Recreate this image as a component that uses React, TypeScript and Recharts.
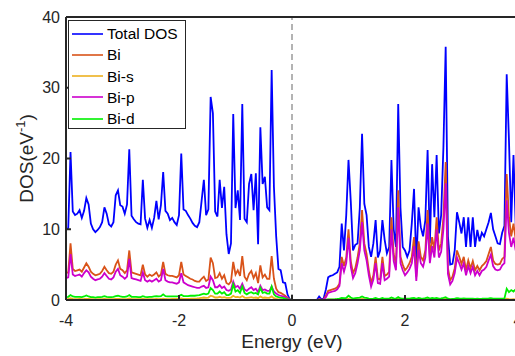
import { LineChart, Line, XAxis, YAxis, ReferenceLine, Legend } from "recharts";

const FONT = '"Liberation Sans", Arial, Helvetica, sans-serif';
const AXIS = "#262626";

const X_TICKS = [-4, -2, 0, 2, 4];
const Y_TICKS = [0, 10, 20, 30, 40];

// energy grid (eV)
const ENERGY = [
  -4, -3.96, -3.92, -3.88, -3.84, -3.8, -3.76, -3.72, -3.68, -3.64,
  -3.6, -3.56, -3.52, -3.48, -3.44, -3.4, -3.36, -3.32, -3.28, -3.24,
  -3.2, -3.16, -3.12, -3.08, -3.04, -3, -2.96, -2.92, -2.88, -2.84,
  -2.8, -2.76, -2.72, -2.68, -2.64, -2.6, -2.56, -2.52, -2.48, -2.44,
  -2.4, -2.36, -2.32, -2.28, -2.24, -2.2, -2.16, -2.12, -2.08, -2.04,
  -2, -1.96, -1.92, -1.88, -1.84, -1.8, -1.76, -1.72, -1.68, -1.64,
  -1.6, -1.56, -1.52, -1.48, -1.44, -1.4, -1.36, -1.32, -1.28, -1.24,
  -1.2, -1.16, -1.12, -1.08, -1.04, -1, -0.96, -0.92, -0.88, -0.84,
  -0.8, -0.76, -0.72, -0.68, -0.64, -0.6, -0.56, -0.52, -0.48, -0.44,
  -0.4, -0.36, -0.32, -0.28, -0.24, -0.2, -0.16, -0.12, -0.08, -0.04,
  0, 0.04, 0.08, 0.12, 0.16, 0.2, 0.24, 0.28, 0.32, 0.36,
  0.4, 0.44, 0.48, 0.52, 0.56, 0.6, 0.64, 0.68, 0.72, 0.76,
  0.8, 0.84, 0.88, 0.92, 0.96, 1, 1.04, 1.08, 1.12, 1.16,
  1.2, 1.24, 1.28, 1.32, 1.36, 1.4, 1.44, 1.48, 1.52, 1.56,
  1.6, 1.64, 1.68, 1.72, 1.76, 1.8, 1.84, 1.88, 1.92, 1.96,
  2, 2.04, 2.08, 2.12, 2.16, 2.2, 2.24, 2.28, 2.32, 2.36,
  2.4, 2.44, 2.48, 2.52, 2.56, 2.6, 2.64, 2.68, 2.72, 2.76,
  2.8, 2.84, 2.88, 2.92, 2.96, 3, 3.04, 3.08, 3.12, 3.16,
  3.2, 3.24, 3.28, 3.32, 3.36, 3.4, 3.44, 3.48, 3.52, 3.56,
  3.6, 3.64, 3.68, 3.72, 3.76, 3.8, 3.84, 3.88, 3.92, 3.96,
  4,
];

const TOTAL = [
  9.9, 10.2, 20.9, 12.5, 12.0, 12.2, 12.7, 11.6, 12.6, 14.4,
  13.5, 10.8, 10.0, 9.6, 9.9, 10.3, 11.0, 13.1, 12.2, 10.7,
  10.4, 11.0, 14.8, 15.5, 13.4, 13.2, 12.2, 13.5, 21.3, 11.9,
  11.4, 11.0, 10.8, 10.7, 17.0, 11.5, 10.2, 11.3, 10.2, 11.6,
  14.0, 11.4, 13.4, 18.1, 12.6, 12.2, 11.3, 11.6, 11.0, 10.6,
  12.0, 20.7, 12.8, 12.6, 12.0, 11.5, 10.9, 10.5, 10.3, 11.0,
  14.0, 17.0, 12.0, 12.8, 28.7, 26.4, 12.5, 11.8, 17.0, 13.0,
  16.0, 9.3, 6.5, 8.0, 26.3, 13.0, 15.5, 11.3, 27.7, 11.5,
  11.0, 16.4, 17.8, 12.7, 17.9, 7.9, 24.4, 16.4, 17.4, 13.1,
  12.7, 32.5, 16.0, 9.0, 4.4, 4.2, 2.5, 2.4, 0.8, 0.1,
  0, 0, 0, 0, 0, 0, 0, 0, 0, 0,
  0, 0, 0.5, 0.1, 0.2, 1.5, 3.2, 3.4, 3.5, 3.7,
  3.9, 4.7, 10.8, 7.0, 12.0, 19.8, 14.0, 7.0, 7.8, 8.0,
  13.0, 23.5, 13.6, 12.0, 7.5, 6.1, 8.0, 11.3, 6.0, 7.0,
  11.3, 8.5, 6.6, 7.5, 19.8, 10.0, 7.5, 27.7, 13.0, 7.5,
  7.0, 6.1, 7.0, 10.8, 15.7, 5.1, 13.1, 10.3, 9.0, 11.3,
  21.2, 8.0, 19.2, 11.7, 20.5, 9.4, 12.0, 21.6, 35.8, 9.0,
  5.0, 5.1, 7.0, 12.4, 11.0, 9.4, 11.7, 7.5, 11.7, 7.5,
  11.7, 7.5, 9.9, 8.3, 9.5, 9.0, 10.0, 11.0, 12.3, 10.0,
  9.0, 8.0, 7.9, 9.5, 10.5, 31.9, 22.6, 11.0, 20.5, 10.5,
  20.0,
];

const BI = [
  3.8, 3.9, 8.0, 4.4, 4.1, 4.2, 4.3, 4.0, 4.6, 5.2,
  4.7, 4.0, 3.7, 3.5, 3.6, 3.7, 4.1, 4.7, 4.2, 3.8,
  3.7, 4.0, 5.0, 5.6, 4.4, 4.2, 3.8, 4.2, 7.0, 3.9,
  3.8, 3.7, 3.6, 3.5, 5.0, 3.6, 3.3, 3.6, 3.4, 3.6,
  3.9, 3.3, 3.6, 5.4, 3.7, 3.5, 3.4, 3.4, 3.3, 3.2,
  3.5, 5.4, 3.6, 3.4, 3.2, 3.0, 2.9, 2.7, 2.6, 2.6,
  3.0, 3.3, 2.7, 2.9, 6.0, 5.2, 3.1, 3.2, 3.8, 3.0,
  3.5, 2.4, 2.2, 2.6, 5.4, 3.6, 4.2, 3.4, 6.2, 3.3,
  2.8, 3.7, 4.1, 3.1, 3.8, 2.4, 4.9, 3.2, 3.6, 3.0,
  3.0, 6.2, 3.0, 1.6, 1.1, 1.0, 0.8, 0.6, 0.3, 0.1,
  0, 0, 0, 0, 0, 0, 0, 0, 0, 0,
  0, 0, 0.1, 0.05, 0.1, 0.6, 1.3, 1.4, 1.5, 1.6,
  1.8, 2.3, 6.1, 4.8, 6.0, 10.0, 5.5, 3.8, 4.5, 6.0,
  8.0, 12.7, 8.0, 6.5, 4.2, 2.4, 3.5, 6.1, 3.0, 2.9,
  6.1, 3.4, 3.6, 4.0, 11.7, 6.5, 5.0, 15.5, 6.1, 5.0,
  4.2, 4.6, 5.2, 6.1, 8.9, 3.3, 8.3, 6.1, 5.6, 7.0,
  12.7, 6.1, 8.9, 7.0, 11.7, 7.0, 8.0, 11.7, 19.5, 4.5,
  2.8, 3.3, 4.5, 7.0, 6.1, 5.1, 6.1, 4.2, 5.6, 4.5,
  5.5, 4.2, 4.8, 4.2, 4.8, 5.1, 5.5, 6.5, 7.5, 5.6,
  5.1, 5.0, 5.1, 5.8, 6.1, 17.8, 11.7, 9.0, 10.8, 8.5,
  11.0,
];

const BI_S = [
  0.12, 0.13, 0.25, 0.15, 0.13, 0.13, 0.14, 0.12, 0.14, 0.17,
  0.15, 0.12, 0.11, 0.1, 0.11, 0.11, 0.12, 0.15, 0.13, 0.12,
  0.11, 0.12, 0.15, 0.17, 0.14, 0.13, 0.12, 0.13, 0.22, 0.12,
  0.12, 0.12, 0.11, 0.11, 0.16, 0.12, 0.11, 0.12, 0.12, 0.13,
  0.14, 0.13, 0.14, 0.2, 0.14, 0.13, 0.13, 0.14, 0.14, 0.14,
  0.15, 0.22, 0.16, 0.16, 0.17, 0.18, 0.2, 0.2, 0.22, 0.25,
  0.3, 0.35, 0.3, 0.35, 0.6, 0.5, 0.35, 0.35, 0.45, 0.35,
  0.4, 0.3, 0.3, 0.35, 0.6, 0.4, 0.45, 0.35, 0.55, 0.35,
  0.3, 0.35, 0.4, 0.3, 0.35, 0.25, 0.5, 0.3, 0.35, 0.3,
  0.3, 0.5, 0.25, 0.15, 0.1, 0.1, 0.08, 0.06, 0.03, 0.01,
  0, 0, 0, 0, 0, 0, 0, 0, 0, 0,
  0, 0, 0.01, 0, 0.01, 0.02, 0.04, 0.04, 0.05, 0.05,
  0.05, 0.06, 0.1, 0.08, 0.1, 0.15, 0.09, 0.06, 0.07, 0.08,
  0.1, 0.15, 0.1, 0.09, 0.06, 0.05, 0.06, 0.08, 0.05, 0.05,
  0.08, 0.06, 0.06, 0.06, 0.12, 0.07, 0.06, 0.15, 0.07, 0.06,
  0.06, 0.06, 0.06, 0.07, 0.09, 0.05, 0.08, 0.07, 0.06, 0.07,
  0.1, 0.06, 0.08, 0.07, 0.09, 0.06, 0.07, 0.09, 0.14, 0.05,
  0.04, 0.04, 0.05, 0.07, 0.06, 0.05, 0.06, 0.05, 0.06, 0.05,
  0.06, 0.05, 0.05, 0.05, 0.05, 0.06, 0.06, 0.07, 0.08, 0.06,
  0.06, 0.05, 0.05, 0.06, 0.06, 0.2, 0.12, 0.1, 0.11, 0.09,
  0.1,
];

const BI_P = [
  3.1, 3.2, 6.5, 3.6, 3.4, 3.5, 3.6, 3.3, 3.8, 4.2,
  3.9, 3.3, 3.0, 2.8, 2.9, 3.0, 3.3, 3.8, 3.4, 3.0,
  2.9, 3.2, 4.0, 4.4, 3.5, 3.3, 3.0, 3.3, 5.8, 3.1,
  3.0, 2.9, 2.8, 2.7, 3.9, 2.8, 2.6, 2.8, 2.6, 2.8,
  3.0, 2.6, 2.8, 4.4, 2.8, 2.6, 2.5, 2.5, 2.4, 2.3,
  2.5, 3.8, 2.5, 2.3, 2.1, 2.0, 1.9, 1.8, 1.7, 1.7,
  1.9, 2.0, 1.7, 1.8, 3.3, 2.8, 1.8, 1.8, 2.1, 1.7,
  1.9, 1.4, 1.3, 1.5, 2.6, 1.8, 2.0, 1.6, 2.3, 1.5,
  1.3, 1.6, 1.8, 1.4, 1.6, 1.1, 2.0, 1.4, 1.5, 1.3,
  1.3, 1.9, 1.2, 0.9, 0.7, 0.6, 0.5, 0.4, 0.2, 0.05,
  0, 0, 0, 0, 0, 0, 0, 0, 0, 0,
  0, 0, 0.05, 0.03, 0.05, 0.4, 1.0, 1.1, 1.2, 1.3,
  1.5, 2.0, 5.2, 4.0, 5.2, 8.8, 4.7, 3.1, 3.8, 5.2,
  7.0, 11.0, 7.0, 5.6, 3.5, 1.9, 2.9, 5.2, 2.4, 2.3,
  5.2, 2.8, 3.0, 3.3, 10.0, 5.5, 4.2, 13.1, 5.2, 4.2,
  3.5, 3.9, 4.4, 5.2, 7.6, 2.7, 7.1, 5.2, 4.7, 6.0,
  10.8, 5.2, 7.6, 6.0, 10.0, 6.0, 6.8, 10.0, 16.5, 3.7,
  2.2, 2.7, 3.8, 6.0, 5.2, 4.3, 5.2, 3.5, 4.8, 3.8,
  4.7, 3.5, 4.1, 3.5, 4.1, 4.3, 4.7, 5.6, 6.4, 4.8,
  4.3, 4.2, 4.3, 4.9, 5.2, 14.1, 9.5, 7.5, 8.8, 7.0,
  9.0,
];

const BI_D = [
  0.4, 0.45, 0.7, 0.5, 0.45, 0.45, 0.45, 0.4, 0.5, 0.65,
  0.5, 0.4, 0.4, 0.35, 0.4, 0.4, 0.45, 0.55, 0.45, 0.4,
  0.4, 0.45, 0.55, 0.6, 0.5, 0.45, 0.45, 0.5, 0.7, 0.45,
  0.45, 0.45, 0.4, 0.4, 0.55, 0.45, 0.4, 0.45, 0.45, 0.5,
  0.55, 0.5, 0.55, 0.8, 0.55, 0.5, 0.5, 0.5, 0.5, 0.5,
  0.55, 0.75, 0.55, 0.55, 0.55, 0.6, 0.6, 0.6, 0.65, 0.7,
  0.8, 0.9, 0.8, 0.9, 1.7, 1.4, 0.9, 0.9, 1.2, 0.9,
  1.1, 0.7, 0.7, 0.9, 2.2, 1.2, 1.4, 1.0, 1.9, 1.0,
  0.8, 1.0, 1.1, 0.9, 1.0, 0.8, 1.7, 1.0, 1.1, 0.9,
  0.9, 1.9, 0.8, 0.5, 0.4, 0.35, 0.3, 0.2, 0.1, 0.05,
  0, 0, 0, 0, 0, 0, 0, 0, 0, 0,
  0, 0, 0.02, 0.01, 0.02, 0.05, 0.1, 0.1, 0.1, 0.12,
  0.15, 0.2, 0.3, 0.25, 0.3, 0.6, 0.35, 0.2, 0.25, 0.3,
  0.35, 0.5, 0.35, 0.3, 0.2, 0.15, 0.2, 0.3, 0.15, 0.15,
  0.3, 0.18, 0.18, 0.2, 0.35, 0.22, 0.2, 0.4, 0.22, 0.2,
  0.18, 0.2, 0.2, 0.25, 0.3, 0.15, 0.28, 0.22, 0.2, 0.25,
  0.35, 0.2, 0.3, 0.22, 0.3, 0.2, 0.22, 0.3, 0.4, 0.18,
  0.12, 0.15, 0.18, 0.25, 0.22, 0.2, 0.22, 0.18, 0.2, 0.18,
  0.2, 0.17, 0.18, 0.17, 0.18, 0.2, 0.2, 0.22, 0.25, 0.2,
  0.2, 0.18, 0.18, 0.2, 0.22, 1.6, 1.1, 1.4, 1.2, 1.5,
  1.3,
];

const SERIES = [
  { key: "total", name: "Total DOS", color: "#0000FF", values: TOTAL },
  { key: "bi", name: "Bi", color: "#D95319", values: BI },
  { key: "bis", name: "Bi-s", color: "#EDB120", values: BI_S },
  { key: "bip", name: "Bi-p", color: "#CC00CC", values: BI_P },
  { key: "bid", name: "Bi-d", color: "#00F000", values: BI_D },
];

const rows = ENERGY.map((e, i) => {
  const row: Record<string, number> = { energy: e };
  SERIES.forEach((s) => (row[s.key] = s.values[i]));
  return row;
});

function DosLegend({ payload }: { payload?: { value: string; color: string }[] }) {
  const order = SERIES.map((s) => s.name);
  const items = [...(payload ?? [])].sort((a, b) => order.indexOf(a.value) - order.indexOf(b.value));
  return (
    <div
      style={{
        width: 118,
        height: 109,
        boxSizing: "border-box",
        background: "#fff",
        border: `1px solid ${AXIS}`,
        padding: "2px 0 0 3px",
        fontFamily: FONT,
        fontSize: 15.5,
        color: "#000",
      }}
    >
      {items.map((it) => (
        <div key={it.value} style={{ display: "flex", alignItems: "center", height: 21.25 }}>
          <svg width={31} height={4} style={{ display: "block" }}>
            <line x1={0} y1={2} x2={31} y2={2} stroke={it.color} strokeWidth={1.6} />
          </svg>
          <span style={{ marginLeft: 4, lineHeight: "15px" }}>{it.value}</span>
        </div>
      ))}
    </div>
  );
}

function XLabel({ viewBox }: { viewBox?: { x: number; y: number; width: number } }) {
  const vb = viewBox ?? { x: 66, y: 300, width: 452 };
  return (
    <text x={vb.x + vb.width / 2} y={vb.y + 48} textAnchor="middle" fontFamily={FONT} fontSize={19} fill={AXIS}>
      Energy (eV)
    </text>
  );
}

function YLabel({ viewBox }: { viewBox?: { x: number; y: number; width: number; height: number } }) {
  const vb = viewBox ?? { x: 0, y: 17, width: 66, height: 283 };
  const cx = vb.x + vb.width / 2;
  const cy = vb.y + vb.height / 2;
  return (
    <text
      x={cx}
      y={cy}
      transform={`rotate(-90, ${cx}, ${cy})`}
      textAnchor="middle"
      fontFamily={FONT}
      fontSize={19}
      fill={AXIS}
    >
      DOS(eV
      <tspan fontSize={13} dy={-8}>-1</tspan>
      <tspan dy={8}>)</tspan>
    </text>
  );
}

const axisLine = { stroke: AXIS, strokeWidth: 2 };
const tickText = { fill: AXIS, fontSize: 16, fontFamily: FONT };

export default function App() {
  return (
    <div style={{ position: "fixed", left: 0, top: 0, width: 515, height: 356, overflow: "hidden", background: "#fff" }}>
      <LineChart width={530} height={356} data={rows} margin={{ top: 16, right: 11, left: 0, bottom: 0 }}>
        <XAxis
          dataKey="energy"
          type="number"
          domain={[-4, 4]}
          ticks={X_TICKS}
          interval={0}
          allowDataOverflow
          height={56}
          tickSize={-5}
          tickMargin={20}
          tick={tickText}
          axisLine={axisLine}
          tickLine={axisLine}
          label={<XLabel />}
        />
        <XAxis
          xAxisId="top"
          orientation="top"
          type="number"
          domain={[-4, 4]}
          ticks={X_TICKS}
          interval={0}
          allowDataOverflow
          height={1}
          tickSize={-5}
          tick={false}
          axisLine={axisLine}
          tickLine={axisLine}
        />
        <YAxis
          type="number"
          domain={[0, 40]}
          ticks={Y_TICKS}
          interval={0}
          allowDataOverflow
          width={66}
          tickSize={-5}
          tickMargin={11}
          tick={tickText}
          axisLine={axisLine}
          tickLine={axisLine}
          label={<YLabel />}
        />
        <YAxis
          yAxisId="right"
          orientation="right"
          type="number"
          domain={[0, 40]}
          ticks={Y_TICKS}
          interval={0}
          allowDataOverflow
          width={1}
          tickSize={-5}
          tick={false}
          axisLine={axisLine}
          tickLine={axisLine}
        />
        <ReferenceLine x={0} stroke="#9a9a9a" strokeWidth={1.5} strokeDasharray="6 4" />
        {SERIES.map((s) => (
          <Line
            key={s.key}
            dataKey={s.key}
            name={s.name}
            type="linear"
            stroke={s.color}
            strokeWidth={1.8}
            dot={false}
            activeDot={false}
            isAnimationActive={false}
          />
        ))}
        <Legend
          layout="vertical"
          align="center"
          verticalAlign="middle"
          content={<DosLegend />}
          wrapperStyle={{ left: 68, top: 20, width: 118, height: 109 }}
        />
      </LineChart>
    </div>
  );
}
